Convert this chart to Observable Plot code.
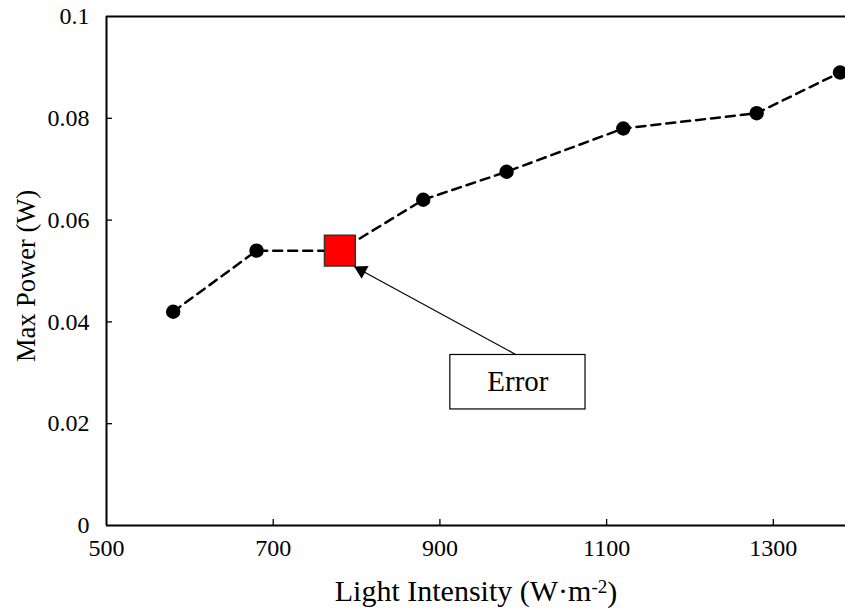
<!DOCTYPE html>
<html>
<head>
<meta charset="utf-8">
<script src="https://cdn.jsdelivr.net/npm/d3@7"></script>
<script src="https://cdn.jsdelivr.net/npm/@observablehq/plot@0.6"></script>
<style>
  html, body { margin: 0; padding: 0; background: #fff; overflow: hidden; }
  #chart svg { display: block; }
</style>
</head>
<body>
<div id="chart"></div>
<script>
// Data
const intensity = [580, 680, 780, 880, 980, 1120, 1280, 1380];
const power = [0.042, 0.054, 0.054, 0.064, 0.0695, 0.078, 0.081, 0.089];
const errorIndex = 2;
const xTicks = [500, 700, 900, 1100, 1300];
const yTicks = [0, 0.02, 0.04, 0.06, 0.08, 0.1];
const xDomain = [500, 1386.6];
const yDomain = [0, 0.1];
const xTitle = "Light Intensity (W·m-2)";
const yTitle = "Max Power (W)";
const annotationText = ["Error"];
// annotation box / arrow anchors in data units
const boxX = [912.5, 1074.7];
const boxY = [0.0228, 0.0335];
const arrowFrom = [992, 0.0335];
const arrowTo = [797, 0.0509];

const points = intensity.map((x, i) => ({x, y: power[i], err: i === errorIndex}));
const normal = points.filter(d => !d.err);
const errPts = points.filter(d => d.err);

const W = 845, H = 612, mL = 106, mR = 0, mT = 16, mB = 87;
const frameW = W - mL - mR, frameH = H - mT - mB;

// arrowhead: triangle dot placed just behind the tip
const xs = frameW / (xDomain[1] - xDomain[0]);
const ys = frameH / (yDomain[1] - yDomain[0]);
const dxp = (arrowTo[0] - arrowFrom[0]) * xs;
const dyp = -(arrowTo[1] - arrowFrom[1]) * ys;
const len = Math.hypot(dxp, dyp);
const ux = dxp / len, uy = dyp / len;
const headR = 5.4;
const back = headR * Math.sqrt(Math.PI) * 2 / Math.sqrt(Math.sqrt(3)) * Math.sqrt(3) / 2 * 2 / 3;
const headPos = [{x: arrowTo[0] - back * ux / xs, y: arrowTo[1] + back * uy / ys}];
const headRot = Math.atan2(dxp, -dyp) * 180 / Math.PI;

const font = "Liberation Serif, Times New Roman, serif";

const plot = Plot.plot({
  width: W,
  height: H,
  marginLeft: mL,
  marginRight: mR,
  marginTop: mT,
  marginBottom: mB,
  style: {fontFamily: font, fontSize: "24px", color: "#000", background: "#fff"},
  x: {domain: xDomain, range: [mL, W - mR]},
  y: {domain: yDomain},
  marks: [
    // tick marks (inside)
    Plot.ruleX(xTicks.slice(1), {x: d => d, stroke: "#000", strokeWidth: 1.3, insetTop: frameH - 6}),
    Plot.ruleY(yTicks.slice(1, -1), {y: d => d, stroke: "#000", strokeWidth: 1.3, insetRight: frameW - 6}),
    // tick labels
    Plot.axisX({ticks: xTicks, tickSize: 0, tickPadding: 13, tickFormat: d => String(d), fontSize: 24, label: null}),
    Plot.axisY({ticks: yTicks, tickSize: 0, tickPadding: 17, tickFormat: d => String(d), fontSize: 24, label: null}),
    // frame lines
    Plot.ruleX([xDomain[0]], {stroke: "#000", strokeWidth: 2}),
    Plot.ruleY([yDomain[0], yDomain[1]], {stroke: "#000", strokeWidth: 2}),
    // axis titles
    Plot.text([xTitle], {frameAnchor: "bottom", lineAnchor: "middle", dy: 66, text: d => d, fontSize: 30, className: "xtitle"}),
    Plot.text([yTitle], {frameAnchor: "left", textAnchor: "middle", lineAnchor: "middle", dx: -80, dy: 5, rotate: -90, text: d => d, fontSize: 26.5}),
    // data line
    Plot.line(points, {x: "x", y: "y", stroke: "#000", strokeWidth: 2.5, strokeDasharray: "9,6"}),
    Plot.dot(normal, {x: "x", y: "y", r: 7.2, fill: "#000", stroke: "none"}),
    Plot.dot(errPts, {x: "x", y: "y", symbol: "square", r: 17.4, fill: "#ff0000", stroke: "#333", strokeWidth: 1.5}),
    // annotation
    Plot.link([0], {x1: () => arrowFrom[0], y1: () => arrowFrom[1], x2: () => arrowTo[0], y2: () => arrowTo[1], stroke: "#000", strokeWidth: 1.2}),
    Plot.dot(headPos, {x: "x", y: "y", symbol: "triangle", r: headR, fill: "#000", stroke: "none", rotate: headRot}),
    Plot.rect([0], {x1: () => boxX[0], x2: () => boxX[1], y1: () => boxY[0], y2: () => boxY[1], fill: "#fff", stroke: "#000", strokeWidth: 1.2}),
    Plot.text(annotationText, {x: () => (boxX[0] + boxX[1]) / 2, y: () => (boxY[0] + boxY[1]) / 2, text: d => d, fontSize: 29})
  ]
});

// superscript in x title
d3.select(plot).selectAll(".xtitle text").each(function () {
  const t = d3.select(this);
  const s = t.text();
  const m = s.match(/^(.*m)(-2)(\))$/);
  if (m) {
    t.text(null);
    t.append("tspan").text(m[1]);
    t.append("tspan").attr("font-size", 19).attr("dy", "-0.45em").text(m[2]);
    t.append("tspan").attr("dy", "0.3em").text(m[3]);
  }
});

document.getElementById("chart").append(plot);
</script>
</body>
</html>
